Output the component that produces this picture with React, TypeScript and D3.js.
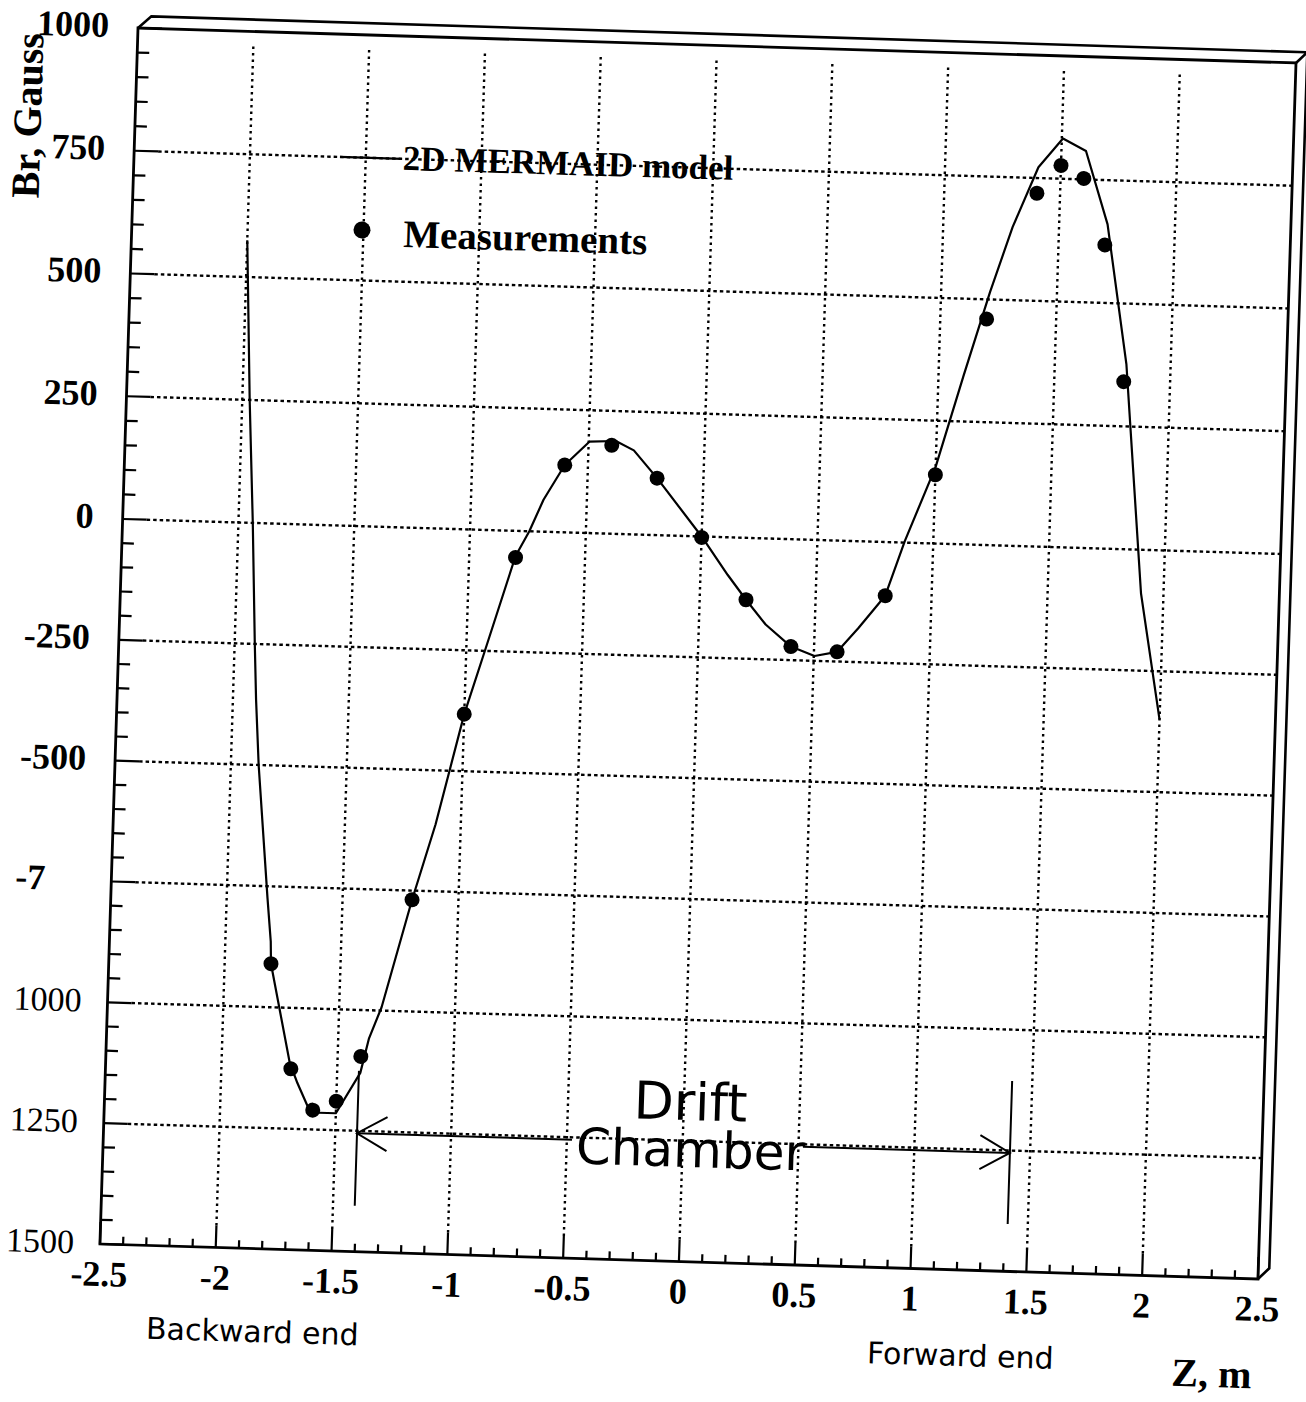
import React from "react";
import * as d3 from "d3";

// ---- data ----
const measZ = [-1.8, -1.7, -1.6, -1.5, -1.4, -1.2, -1.0, -0.8, -0.6, -0.4, -0.2, 0, 0.2, 0.4, 0.6, 0.8, 1.0, 1.2, 1.4, 1.5, 1.6, 1.7, 1.8];
const measBr = [-910, -1126, -1210, -1190, -1096, -769, -382, -55, 137, 180, 116, -2, -128, -222, -230, -111, 140, 460, 719, 777, 752, 618, 341];

const modelZ = [-2.0, -1.968, -1.938, -1.913, -1.9, -1.88, -1.824, -1.804, -1.8, -1.706, -1.67, -1.61, -1.5, -1.4, -1.367, -1.317, -1.2, -1.109, -1.0, -0.91, -0.8, -0.744, -0.687, -0.6, -0.497, -0.383, -0.304, -0.2, 0, 0.118, 0.2, 0.288, 0.4, 0.503, 0.6, 0.688, 0.8, 0.877, 1.0, 1.108, 1.211, 1.3, 1.403, 1.505, 1.606, 1.709, 1.809, 1.903, 2.0];
const modelBr = [575, 250, 0, -250, -365, -500, -774, -864, -910, -1113, -1155, -1215, -1215, -1130, -1058, -993, -769, -612, -382, -234, -52, 0, 65, 137, 186, 189, 171, 116, 0, -78, -128, -178, -222, -240, -230, -180, -111, 3, 156, 343, 515, 649, 772, 832, 808, 660, 377, -90, -350];

const xTicks = [-2.5, -2, -1.5, -1, -0.5, 0, 0.5, 1, 1.5, 2, 2.5];
const xTickLabels = ["-2.5", "-2", "-1.5", "-1", "-0.5", "0", "0.5", "1", "1.5", "2", "2.5"];
const yTicks = [1000, 750, 500, 250, 0, -250, -500, -750, -1000, -1250, -1500];
const yTickLabels = ["1000", "750", "500", "250", "0", "-250", "-500", "-7", "1000", "1250", "1500"];

const legendLabels = ["2D MERMAID model", "Measurements"];
const chamberZ = [-1.406, 1.413];
const chamberLabel = ["Drift", "Chamber"];

// ---- layout ----
const W = 1158;
const H = 1216;
const M = { a: 1, b: 0.0302, c: -0.0313, d: 1, e: 138, f: 28 };
const SERIF = "'Liberation Serif', 'Times New Roman', serif";
const SANS = "'DejaVu Sans', sans-serif";

function toInner(px: number, py: number): [number, number] {
  const det = M.a * M.d - M.b * M.c;
  const dx = px - M.e;
  const dy = py - M.f;
  return [(M.d * dx - M.c * dy) / det, (-M.b * dx + M.a * dy) / det];
}

export default function App() {
  const x = d3.scaleLinear().domain([-2.5, 2.5]).range([0, W]);
  const y = d3.scaleLinear().domain([1000, 0, -1500]).range([0, 491, H]);

  const line = d3
    .line<number>()
    .x((_, i) => x(modelZ[i]))
    .y((_, i) => y(modelBr[i]));
  const modelPath = line(modelZ) || "";

  const xMinor = d3.range(-25, 26).filter((i) => i % 5 !== 0).map((i) => i / 10);
  const yMinor = d3.range(-1500, 1001, 50).filter((t) => t % 250 !== 0);

  const off = 11; // 3D frame offset
  const gridStyleH = { stroke: "#000", strokeWidth: 2.4, strokeDasharray: "3.5 3" };
  const gridStyleV = { stroke: "#000", strokeWidth: 2.4, strokeDasharray: "2.5 4" };

  const [tu, tv] = toInner(41, 116);
  const [bu, bv] = toInner(252, 1342);
  const [fu, fv] = toInner(960, 1366);
  const [zu, zv] = toInner(1211, 1387);
  const [mu, mv] = toInner(362, 230);
  const [lu0] = toInner(340, 156);
  const [lu1] = toInner(402, 158);
  const [meu, mev] = toInner(403, 247);
  const [du, dv] = toInner(690, 1120);
  const [cu, cv] = toInner(690, 1167);
  const [gapL] = toInner(572, 1139);
  const [gapR] = toInner(803, 1145);

  const arrowY = y(-1255);
  const xl = x(chamberZ[0]);
  const xr = x(chamberZ[1]);

  return (
    <svg
      width={1306}
      height={1402}
      style={{ position: "absolute", left: 0, top: 0, background: "#fff", display: "block" }}
    >
      <rect x={0} y={0} width={1306} height={1402} fill="#fff" />
      <g transform={`matrix(${M.a},${M.b},${M.c},${M.d},${M.e},${M.f})`}>
        {/* gridlines */}
        {yTicks
          .filter((t) => t !== 1000 && t !== -1500)
          .map((t) => (
            <line key={"gh" + t} x1={24} x2={W} y1={y(t)} y2={y(t)} style={gridStyleH} />
          ))}
        {xTicks
          .filter((t) => t !== -2.5 && t !== 2.5)
          .map((t) => (
            <line key={"gv" + t} x1={x(t)} x2={x(t)} y1={H - 22} y2={12} style={gridStyleV} />
          ))}

        {/* ticks */}
        {yMinor.map((t) => (
          <line key={"ym" + t} x1={0} x2={12} y1={y(t)} y2={y(t)} stroke="#000" strokeWidth={2.2} />
        ))}
        {yTicks.map((t) => (
          <line key={"yM" + t} x1={0} x2={24} y1={y(t)} y2={y(t)} stroke="#000" strokeWidth={2.2} />
        ))}
        {xMinor.map((t) => (
          <line key={"xm" + t} x1={x(t)} x2={x(t)} y1={H} y2={H - 8} stroke="#000" strokeWidth={2.2} />
        ))}
        {xTicks.map((t) => (
          <line key={"xM" + t} x1={x(t)} x2={x(t)} y1={H} y2={H - 22} stroke="#000" strokeWidth={2.2} />
        ))}

        {/* frame */}
        <rect x={0} y={0} width={W} height={H} fill="none" stroke="#000" strokeWidth={2.8} />
        <path
          d={`M0,0 L${off + 2},${-off - 1} L${W + off},${-off} L${W + off},${H - off} L${W},${H} M${W},0 L${W + off},${-off}`}
          fill="none"
          stroke="#000"
          strokeWidth={2.6}
        />

        {/* model curve */}
        <path d={modelPath} fill="none" stroke="#000" strokeWidth={2.2} strokeLinejoin="round" />

        {/* measurements */}
        {measZ.map((z, i) => (
          <circle key={"p" + i} cx={x(z)} cy={y(measBr[i])} r={7.5} fill="#000" />
        ))}

        {/* y tick labels */}
        {yTicks.map((t, i) => {
          const truncated = yTickLabels[i] === "-7";
          const light = i >= 8;
          return (
            <text
              key={"yl" + t}
              x={truncated ? -96 : light ? -26 : -29}
              y={y(t) + 10}
              textAnchor={truncated ? "start" : "end"}
              fontFamily={SERIF}
              fontSize={light ? 34 : 36}
              fontWeight={light ? "normal" : "bold"}
              fill="#000"
            >
              {yTickLabels[i]}
            </text>
          );
        })}

        {/* x tick labels */}
        {xTicks.map((t, i) => (
          <text
            key={"xl" + t}
            x={x(t)}
            y={H + 42}
            textAnchor="middle"
            fontFamily={SERIF}
            fontSize={36}
            fontWeight="bold"
            fill="#000"
          >
            {xTickLabels[i]}
          </text>
        ))}

        {/* axis titles */}
        <text
          transform={`translate(${tu},${tv}) rotate(-90)`}
          textAnchor="middle"
          fontFamily={SERIF}
          fontSize={40}
          fontWeight="bold"
          fill="#000"
        >
          Br, Gauss
        </text>
        <text x={zu} y={zv} textAnchor="middle" fontFamily={SERIF} fontSize={40} fontWeight="bold" fill="#000">
          Z, m
        </text>
        <text x={bu} y={bv} textAnchor="middle" fontFamily={SANS} fontSize={30} fill="#000">
          Backward end
        </text>
        <text x={fu} y={fv} textAnchor="middle" fontFamily={SANS} fontSize={30} fill="#000">
          Forward end
        </text>

        {/* legend */}
        <line x1={lu0} x2={lu1} y1={y(750)} y2={y(750)} stroke="#000" strokeWidth={2.2} />
        <text x={lu1 + 1} y={y(750) + 11} fontFamily={SERIF} fontSize={35} fontWeight="bold" fill="#000">
          {legendLabels[0]}
        </text>
        <circle cx={mu} cy={mv} r={8.5} fill="#000" />
        <text x={meu} y={mev} fontFamily={SERIF} fontSize={39} fontWeight="bold" fill="#000">
          {legendLabels[1]}
        </text>

        {/* Drift chamber annotation */}
        <line x1={xl} x2={xl} y1={y(-1126)} y2={y(-1405)} stroke="#000" strokeWidth={2} />
        <line x1={xr} x2={xr} y1={y(-1106)} y2={y(-1402)} stroke="#000" strokeWidth={2} />
        <line x1={xl} x2={gapL} y1={arrowY} y2={arrowY} stroke="#000" strokeWidth={2} />
        <line x1={gapR} x2={xr} y1={arrowY} y2={arrowY} stroke="#000" strokeWidth={2} />
        <path
          d={`M${xl + 30},${arrowY - 17} L${xl},${arrowY} L${xl + 30},${arrowY + 17}`}
          fill="none"
          stroke="#000"
          strokeWidth={2}
        />
        <path
          d={`M${xr - 30},${arrowY - 17} L${xr},${arrowY} L${xr - 30},${arrowY + 17}`}
          fill="none"
          stroke="#000"
          strokeWidth={2}
        />
        <text x={du} y={dv} textAnchor="middle" fontFamily={SANS} fontSize={52} fill="#000">
          {chamberLabel[0]}
        </text>
        <text x={cu} y={cv} textAnchor="middle" fontFamily={SANS} fontSize={50} fill="#000">
          {chamberLabel[1]}
        </text>
      </g>
    </svg>
  );
}
